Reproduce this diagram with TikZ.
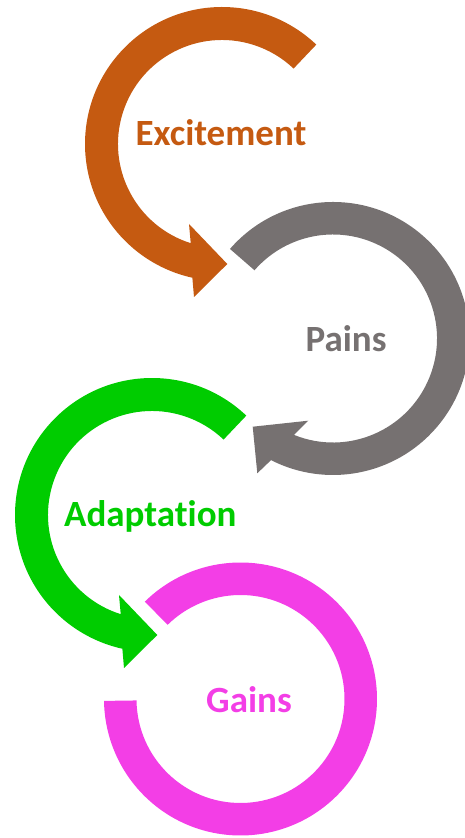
\documentclass[tikz,border=0pt]{standalone}
\usepackage{fontspec}
\setmainfont{Carlito}[Ligatures=NoCommon]
\usetikzlibrary{calc}
\definecolor{cexcite}{HTML}{C55A11}
\definecolor{cpain}{HTML}{767171}
\definecolor{cadapt}{HTML}{00CC00}
\definecolor{cgain}{HTML}{F33EE6}
\tikzset{
  lbl/.style={font=\fontsize{37}{44}\selectfont\bfseries, anchor=base, inner sep=0pt},
}

\begin{document}
\begin{tikzpicture}[x=1pt, y=1pt]
  \useasboundingbox (0,0) rectangle (465,838);
  \clip (0,0) rectangle (465,838);
  \coordinate (oe) at (222,694);
  \coordinate (op) at (333,499.5);
  \coordinate (oa) at (152,323);
  \coordinate (og) at (240.5,139);

  \fill[cexcite] ($(oe)+(46.5:137pt)$) arc[start angle=46.5, end angle=257.5, radius=137pt]
    -- (194,541) -- (227.3,574) -- (189,614)
    -- ($(oe)+(252.5:104pt)$) arc[start angle=252.5, end angle=46.5, radius=104pt] -- cycle;

  \fill[cpain] ($(op)+(139:136.5pt)$) arc[start angle=139, end angle=-117, radius=136.5pt]
    -- (257.3,364.7) -- (252.7,411.3) -- (308.3,417.3)
    -- ($(op)+(-112:104pt)$) arc[start angle=-112, end angle=139, radius=104pt] -- cycle;

  \fill[cadapt] ($(oa)+(46.5:137pt)$) arc[start angle=46.5, end angle=257.5, radius=137pt]
    -- (124,170) -- (157.3,203) -- (119,243)
    -- ($(oa)+(252.5:104pt)$) arc[start angle=252.5, end angle=46.5, radius=104pt] -- cycle;

  \fill[cgain] ($(og)+(134.5:136.5pt)$) arc[start angle=134.5, end angle=-179.2, radius=136.5pt]
    -- ($(og)+(-179.2:104pt)$) arc[start angle=-179.2, end angle=134.5, radius=104pt] -- cycle;

  \node[lbl, text=cexcite] (excite) at (221,692) {Excitement};
  \node[lbl, text=cpain] (pain) at (346,486.3) {Pains};
  \node[lbl, text=cadapt] (adapt) at (150.3,311.3) {Adaptation};
  \node[lbl, text=cgain] (gain) at (249,125) {Gains};
\end{tikzpicture}
\end{document}
